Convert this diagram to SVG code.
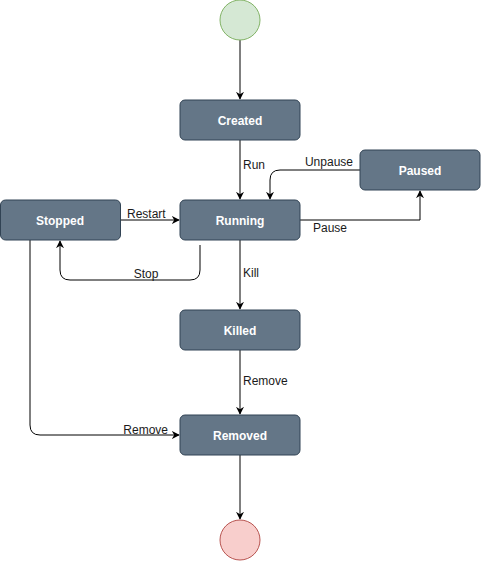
<svg xmlns="http://www.w3.org/2000/svg" width="481" height="561" viewBox="0 0 481 561">
  <style>
    .state { fill: #647687; stroke: #314354; stroke-width: 1; }
    .state-label { fill: #ffffff; font-family: "Liberation Sans", Arial, sans-serif; font-size: 12px; font-weight: bold; text-anchor: middle; dominant-baseline: central; }
    .edge { fill: none; stroke: #000000; stroke-width: 1; marker-end: url(#arrow); }
    .edge-label { fill: #1a1a1a; font-family: "Liberation Sans", Arial, sans-serif; font-size: 12px; }
  </style>
  <defs>
    <marker id="arrow" viewBox="0 0 10 10" refX="9" refY="5" markerWidth="8" markerHeight="8" markerUnits="userSpaceOnUse" orient="auto">
      <path d="M0,0 L10,5 L0,10 L3,5 Z" fill="#000000"/>
    </marker>
  </defs>

  <rect width="481" height="561" fill="#ffffff"/>

  <!-- transitions -->
  <g id="edges">
    <path class="edge" d="M240,40 L240,99"/>
    <path class="edge" d="M240,140 L240,199"/>
    <path class="edge" d="M360,170 L280,170 Q270,170 270,180 L270,199"/>
    <path class="edge" d="M300,220 L420,220 L420,191"/>
    <path class="edge" d="M120,220 L179,220"/>
    <path class="edge" d="M200,245 L200,270 Q200,280 190,280 L70,280 Q60,280 60,270 L60,241"/>
    <path class="edge" d="M240,240 L240,309"/>
    <path class="edge" d="M240,350 L240,414"/>
    <path class="edge" d="M30,240 L30,425 Q30,435 40,435 L179,435"/>
    <path class="edge" d="M240,455 L240,519"/>
    <text class="edge-label" x="243" y="169">Run</text>
    <text class="edge-label" x="353" y="166" text-anchor="end">Unpause</text>
    <text class="edge-label" x="313" y="232">Pause</text>
    <text class="edge-label" x="127" y="218">Restart</text>
    <text class="edge-label" x="146" y="278" text-anchor="middle">Stop</text>
    <text class="edge-label" x="243" y="277">Kill</text>
    <text class="edge-label" x="243" y="385">Remove</text>
    <text class="edge-label" x="168" y="434" text-anchor="end">Remove</text>
  </g>

  <g id="start">
    <circle cx="240" cy="20" r="20" fill="#d5e8d4" stroke="#82b366"/>
  </g>
  <g id="created">
    <rect class="state" x="180" y="100" width="120" height="40" rx="5"/>
    <text class="state-label" x="240" y="121">Created</text>
  </g>
  <g id="paused">
    <rect class="state" x="360" y="150" width="120" height="40" rx="5"/>
    <text class="state-label" x="420" y="171">Paused</text>
  </g>
  <g id="stopped">
    <rect class="state" x="0.5" y="200" width="120" height="40" rx="5"/>
    <text class="state-label" x="60" y="221">Stopped</text>
  </g>
  <g id="running">
    <rect class="state" x="180" y="200" width="120" height="40" rx="5"/>
    <text class="state-label" x="240" y="221">Running</text>
  </g>
  <g id="killed">
    <rect class="state" x="180" y="310" width="120" height="40" rx="5"/>
    <text class="state-label" x="240" y="331">Killed</text>
  </g>
  <g id="removed">
    <rect class="state" x="180" y="415" width="120" height="40" rx="5"/>
    <text class="state-label" x="240" y="436">Removed</text>
  </g>
  <g id="end">
    <circle cx="240" cy="540" r="20" fill="#f8cecc" stroke="#b85450"/>
  </g>
</svg>
